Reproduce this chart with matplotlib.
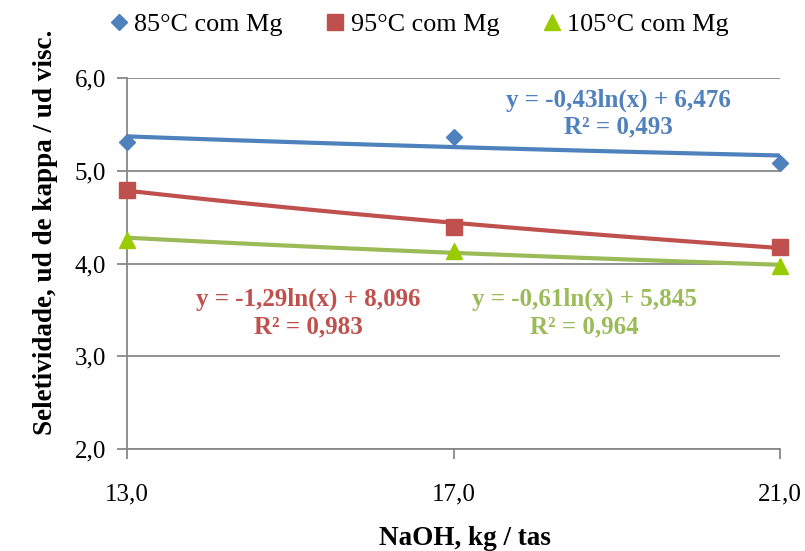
import numpy as np
import matplotlib.pyplot as plt

# -----------------------------------
# Data
# -----------------------------------
naoh = [13.0, 17.0, 21.0]
sel_85 = [5.31, 5.37, 5.09]
sel_95 = [4.79, 4.39, 4.18]
sel_105 = [4.25, 4.14, 3.97]

# log trend coefficients (slope, intercept) as shown on chart
fit_85 = [-0.43, 6.476]
fit_95 = [-1.29, 8.096]
fit_105 = [-0.61, 5.845]

labels = ["85°C com Mg", "95°C com Mg", "105°C com Mg"]
eq_85 = "y = -0,43ln(x) + 6,476\nR² = 0,493"
eq_95 = "y = -1,29ln(x) + 8,096\nR² = 0,983"
eq_105 = "y = -0,61ln(x) + 5,845\nR² = 0,964"

# -----------------------------------
# Plot
# -----------------------------------
plt.rcParams['font.family'] = ['Liberation Serif', 'DejaVu Serif']

fig = plt.figure(figsize=(8.05, 5.51), dpi=100)
ax = fig.add_axes([0.158, 0.185, 0.811, 0.673])

xs = np.linspace(naoh[0], naoh[-1], 100)
line_cols = ["#4F81BD", "#C0504D", "#9BBB59"]
mark_cols = ["#4F81BD", "#C0504D", "#99CC00"]
markers = ["D", "s", "^"]
msizes = [8, 11, 12]

handles = []
for sel, fit, lc, mc, m, ms, lab in zip(
        [sel_85, sel_95, sel_105], [fit_85, fit_95, fit_105],
        line_cols, mark_cols, markers, msizes, labels):
    ax.plot(xs, fit[0] * np.log(xs) + fit[1], color=lc, lw=3, zorder=3)
    h, = ax.plot(naoh, sel, linestyle="none", marker=m, ms=ms,
                 color=mc, label=lab, zorder=4, clip_on=False)
    handles.append(h)

ax.set_xlim(13, 21)
ax.set_ylim(2, 6)
ax.set_xticks(naoh)
ax.set_xticklabels(["13,0", "17,0", "21,0"])
ax.set_yticks([2, 3, 4, 5, 6])
ax.set_yticklabels(["2,0", "3,0", "4,0", "5,0", "6,0"])
ax.grid(axis="y", color="#888888", lw=1.3)
ax.set_axisbelow(True)
for s in ["top", "right"]:
    ax.spines[s].set_visible(False)
for s in ["left", "bottom"]:
    ax.spines[s].set_color("#888888")
    ax.spines[s].set_linewidth(1.3)
ax.tick_params(axis="both", labelsize=18, color="#888888", width=1.3,
               length=7, direction="out")
ax.tick_params(axis="x", pad=18)
ax.tick_params(axis="y", pad=8)

ax.set_xlabel("NaOH, kg / tas", fontsize=19.5, fontweight="bold", va="center")
ax.xaxis.set_label_coords(0.518, -0.24)
ax.set_ylabel("Seletividade, ud de kappa / ud visc.", fontsize=19.5,
              fontweight="bold", va="center")
ax.yaxis.set_label_coords(-0.125, 0.585)

eq_kw = dict(transform=ax.transAxes, ha="center", va="center",
             fontsize=18, fontweight="bold", linespacing=1.2)
ax.text(0.752, 0.906, eq_85, color="#4F81BD", **eq_kw)
ax.text(0.277, 0.367, eq_95, color="#C0504D", **eq_kw)
ax.text(0.70, 0.367, eq_105, color="#9BBB59", **eq_kw)

fig.legend(handles=handles, loc="center", bbox_to_anchor=(0.52, 0.955),
           ncol=3, frameon=False, fontsize=18.8, handlelength=0.8,
           handletextpad=0.2, columnspacing=1.6)

fig.savefig("out.png", dpi=100)
